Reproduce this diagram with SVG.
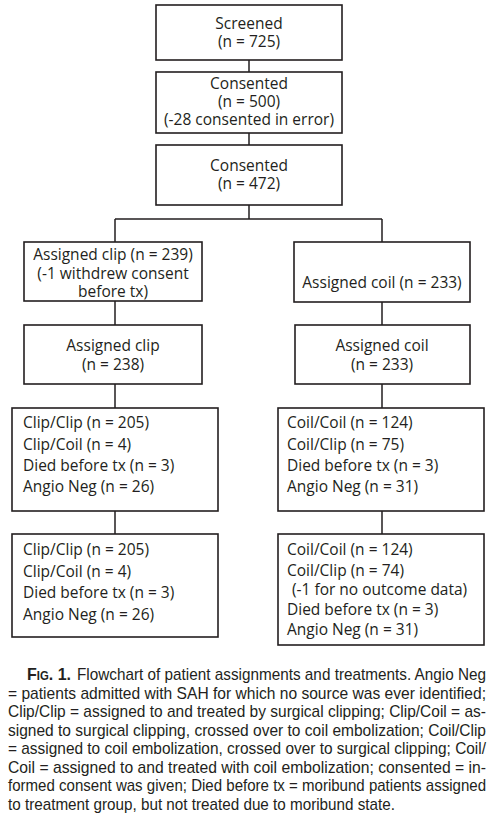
<svg xmlns="http://www.w3.org/2000/svg" width="493" height="829" viewBox="0 0 493 829">
<style>
.box{fill:#fff;stroke:#231f20;stroke-width:1.6}
.ln{stroke:#231f20;stroke-width:1.5;fill:none}
.t{font-family:"Open Sans","Noto Sans",sans-serif;font-size:15.5px;fill:#231f20}
.c{text-anchor:middle}
.cap{font-family:"Liberation Sans",Arial,sans-serif;font-size:17px;fill:#231f20}
</style>
<rect width="493" height="829" fill="#fff"/>
<g id="connectors">
<path class="ln" d="M249,60V72M249,133V145M249,205V219M115,219H382M115,219V242M382,219V242M115,301V325M382,302V325M115,384V408M382,384V408M115,511V534M382,511V534"/>
</g>
<g id="screened">
<rect class="box" x="156" y="5" width="186" height="55"/>
<text class="t c" x="249" y="29">Screened</text>
<text class="t c" x="249" y="47">(n = 725)</text>
</g>
<g id="consented500">
<rect class="box" x="156" y="72" width="186" height="61"/>
<text class="t c" x="249" y="89">Consented</text>
<text class="t c" x="249" y="107">(n = 500)</text>
<text class="t c" x="249" y="125">(-28 consented in error)</text>
</g>
<g id="consented472">
<rect class="box" x="156" y="145" width="186" height="60"/>
<text class="t c" x="249" y="171">Consented</text>
<text class="t c" x="249" y="189">(n = 472)</text>
</g>
<g id="assignedClip239">
<rect class="box" x="24" y="242" width="178" height="59"/>
<text class="t c" x="113" y="260">Assigned clip (n = 239)</text>
<text class="t c" x="113" y="279">(-1 withdrew consent</text>
<text class="t c" x="113" y="297">before tx)</text>
</g>
<g id="assignedCoil233">
<rect class="box" x="294" y="242" width="176" height="60"/>
<text class="t c" x="382" y="288">Assigned coil (n = 233)</text>
</g>
<g id="assignedClip238">
<rect class="box" x="24" y="325" width="178" height="59"/>
<text class="t c" x="113" y="351">Assigned clip</text>
<text class="t c" x="113" y="370">(n = 238)</text>
</g>
<g id="assignedCoil233b">
<rect class="box" x="295" y="325" width="175" height="59"/>
<text class="t c" x="382" y="351">Assigned coil</text>
<text class="t c" x="382" y="370">(n = 233)</text>
</g>
<g id="clipResults1">
<rect class="box" x="12" y="408" width="206" height="103"/>
<text class="t" x="23" y="428">Clip/Clip (n = 205)</text>
<text class="t" x="23" y="450">Clip/Coil (n = 4)</text>
<text class="t" x="23" y="471">Died before tx (n = 3)</text>
<text class="t" x="23" y="492">Angio Neg (n = 26)</text>
</g>
<g id="coilResults1">
<rect class="box" x="278" y="408" width="206" height="103"/>
<text class="t" x="287" y="428">Coil/Coil (n = 124)</text>
<text class="t" x="287" y="450">Coil/Clip (n = 75)</text>
<text class="t" x="287" y="471">Died before tx (n = 3)</text>
<text class="t" x="287" y="492">Angio Neg (n = 31)</text>
</g>
<g id="clipResults2">
<rect class="box" x="12" y="534" width="206" height="103"/>
<text class="t" x="23" y="555">Clip/Clip (n = 205)</text>
<text class="t" x="23" y="577">Clip/Coil (n = 4)</text>
<text class="t" x="23" y="598">Died before tx (n = 3)</text>
<text class="t" x="23" y="620">Angio Neg (n = 26)</text>
</g>
<g id="coilResults2">
<rect class="box" x="278" y="534" width="206" height="111"/>
<text class="t" x="287" y="555">Coil/Coil (n = 124)</text>
<text class="t" x="287" y="576">Coil/Clip (n = 74)</text>
<text class="t" x="292" y="595">(-1 for no outcome data)</text>
<text class="t" x="287" y="615">Died before tx (n = 3)</text>
<text class="t" x="287" y="635">Angio Neg (n = 31)</text>
</g>
<g id="caption">
<text class="cap" x="27" y="680" font-variant="small-caps" font-weight="bold" textLength="44" lengthAdjust="spacingAndGlyphs">Fig. 1.</text>
<text class="cap" x="77" y="680" textLength="409" lengthAdjust="spacingAndGlyphs">Flowchart of patient assignments and treatments. Angio Neg</text>
<text class="cap" x="8" y="698.5" textLength="478" lengthAdjust="spacingAndGlyphs">= patients admitted with SAH for which no source was ever identified;</text>
<text class="cap" x="8" y="717" textLength="478" lengthAdjust="spacingAndGlyphs">Clip/Clip = assigned to and treated by surgical clipping; Clip/Coil = as-</text>
<text class="cap" x="8" y="735.5" textLength="478" lengthAdjust="spacingAndGlyphs">signed to surgical clipping, crossed over to coil embolization; Coil/Clip</text>
<text class="cap" x="8" y="754" textLength="478" lengthAdjust="spacingAndGlyphs">= assigned to coil embolization, crossed over to surgical clipping; Coil/</text>
<text class="cap" x="8" y="772.5" textLength="478" lengthAdjust="spacingAndGlyphs">Coil = assigned to and treated with coil embolization; consented = in-</text>
<text class="cap" x="8" y="791" textLength="478" lengthAdjust="spacingAndGlyphs">formed consent was given; Died before tx = moribund patients assigned</text>
<text class="cap" x="8" y="809.5" textLength="387" lengthAdjust="spacingAndGlyphs">to treatment group, but not treated due to moribund state.</text>
</g>
</svg>
